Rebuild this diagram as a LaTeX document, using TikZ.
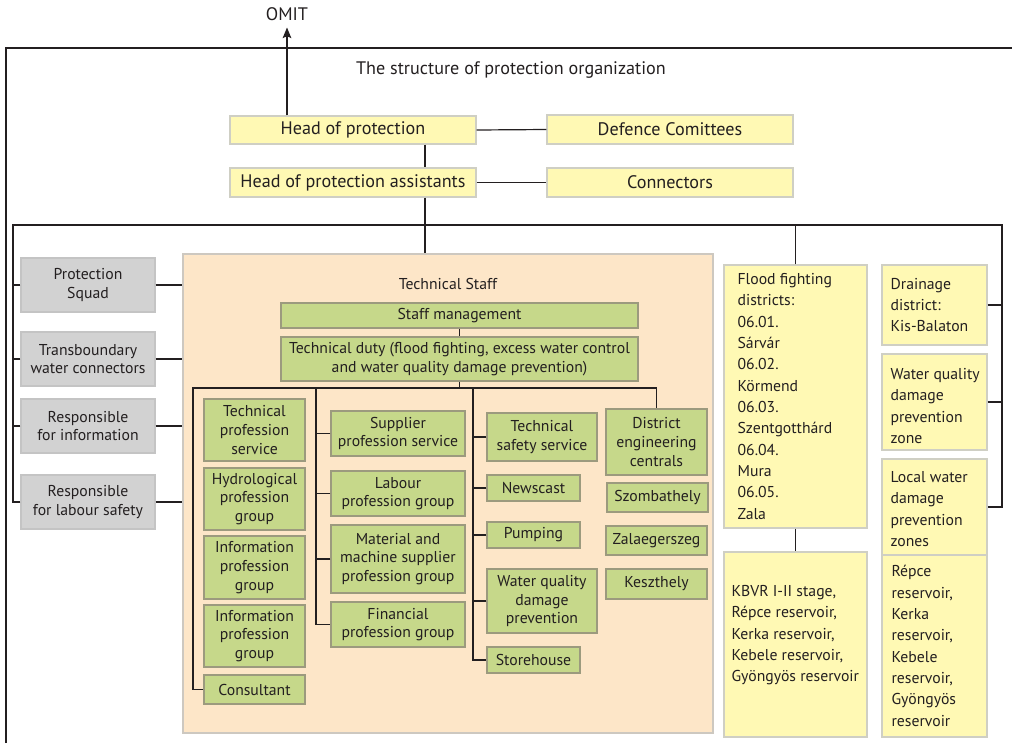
\documentclass[tikz,border=0pt]{standalone}
\usepackage{fontspec}
\setmainfont{PT Sans}
\usetikzlibrary{arrows.meta}

\definecolor{ink}{HTML}{231F20}
\definecolor{yfill}{HTML}{FFF9B4}
\definecolor{yline}{HTML}{CFCFC4}
\definecolor{gfill}{HTML}{C6D88A}
\definecolor{gline}{HTML}{9C9A7E}
\definecolor{sfill}{HTML}{D2D2D2}
\definecolor{sline}{HTML}{C4C4C4}
\definecolor{pfill}{HTML}{FDE6C8}
\definecolor{pline}{HTML}{CDC8C0}

% box from corner (x1,y1) to corner (x2,y2), in pixel units
\newcommand\bx[7]{\node[#2, minimum width={(#5-(#3))*0.75pt}, minimum height={(#6-(#4))*0.75pt}] (#1) at ({(#3+#5)/2},{(#4+#6)/2}) {#7};}

\begin{document}
\begin{tikzpicture}[x=0.75pt,y=-0.75pt,
  every node/.style={text=ink, inner sep=0pt},
  txtbig/.style={font=\fontsize{13.6}{15}\selectfont},
  txtsm/.style={font=\fontsize{11.8}{14}\selectfont},
  txtlist/.style={font=\fontsize{11.8}{16}\selectfont, align=left},
  ybox/.style={draw=yline, fill=yfill, line width=1pt, align=center},
  gbox/.style={draw=gline, fill=gfill, line width=1pt, align=center, txtsm},
  sbox/.style={draw=sline, fill=sfill, line width=1pt, align=center, txtsm},
  pbox/.style={draw=pline, fill=pfill, line width=1pt},
  wire/.style={draw=ink, line width=0.9pt},
]
\useasboundingbox (0,0) rectangle (1012,743);

% frame and bus anchors
\coordinate (frTL) at (6,48);
\coordinate (frTR) at (1012,48);
\coordinate (frBL) at (6,743);
\coordinate (busL) at (13,225);
\coordinate (busR) at (1002,225);
\coordinate (spine) at (425,225);
\coordinate (ibL) at (193,388);
\coordinate (c2) at (316,388);
\coordinate (c3) at (473,388);

\draw[wire] (frBL) -- (frTL) -- (frTR);

\node[txtbig] (omit) at (287,14) {OMIT};
\node[txtbig] (title) at (511,70) {The structure of protection organization};

% top level
\bx{head}{ybox,txtbig}{230}{116}{476}{144}{Head of protection}
\bx{assist}{ybox,txtbig}{230}{168}{476}{197}{Head of protection assistants}
\bx{defence}{ybox,txtbig}{547}{115}{793}{144}{Defence Comittees}
\bx{connect}{ybox,txtbig}{547}{168}{793}{197}{Connectors}

% grey units on the left
\bx{squad}{sbox}{21}{258}{155}{312}{Protection\\Squad}
\bx{transb}{sbox}{21}{332}{155}{386}{Transboundary\\water connectors}
\bx{respinfo}{sbox}{21}{399}{155}{453}{Responsible\\for information}
\bx{resplab}{sbox}{21}{475}{155}{529}{Responsible\\for labour safety}

% technical staff
\bx{tstaff}{pbox}{183}{254}{713}{733}{}
\node[txtsm] (tstaff-title) at (448,284) {Technical Staff};
\bx{mgmt}{gbox}{281}{303}{638}{328}{Staff management}
\bx{duty}{gbox}{281}{337}{638}{381}{Technical duty (flood fighting, excess water control\\and water quality damage prevention)}

\bx{tps}{gbox}{204}{399}{305}{461}{Technical\\profession\\service}
\bx{hyd}{gbox}{204}{468}{305}{530}{Hydrological\\profession\\group}
\bx{info1}{gbox}{204}{536}{305}{599}{Information\\profession\\group}
\bx{info2}{gbox}{204}{605}{305}{667}{Information\\profession\\group}
\bx{consult}{gbox}{204}{675}{305}{704}{Consultant}

\bx{supp}{gbox}{331}{411}{465}{456}{Supplier\\profession service}
\bx{labour}{gbox}{331}{471}{465}{516}{Labour\\profession group}
\bx{material}{gbox}{331}{525}{465}{593}{Material and\\machine supplier\\profession group}
\bx{financial}{gbox}{331}{602}{465}{647}{Financial\\profession group}

\bx{safety}{gbox}{487}{413}{597}{461}{Technical\\safety service}
\bx{news}{gbox}{487}{475}{580}{501}{Newscast}
\bx{pump}{gbox}{487}{522}{580}{548}{Pumping}
\bx{wqdp}{gbox}{487}{569}{597}{633}{Water quality\\damage\\prevention}
\bx{store}{gbox}{487}{647}{580}{673}{Storehouse}

\bx{district}{gbox}{606}{409}{707}{475}{District\\engineering\\centrals}
\bx{szomb}{gbox}{607}{483}{708}{512}{Szombathely}
\bx{zala}{gbox}{606}{526}{707}{555}{Zalaegerszeg}
\bx{keszt}{gbox}{606}{569}{707}{599}{Keszthely}

% districts and zones on the right
\bx{flood}{ybox}{724}{265}{867}{528}{}
\node[txtlist, anchor=west] (flood-txt) at ([xshift=10.5pt]flood.west)
  {Flood fighting\\districts:\\06.01.\\Sárvár\\06.02.\\Körmend\\06.03.\\Szentgotthárd\\06.04.\\Mura\\06.05.\\Zala};
\bx{kbvr}{ybox}{724}{552}{867}{737}{}
\node[txtlist, anchor=west] (kbvr-txt) at ([xshift=6pt,yshift=7pt]kbvr.west)
  {KBVR I-II stage,\\Répce reservoir,\\Kerka reservoir,\\Kebele reservoir,\\Gyöngyös reservoir};
\bx{drain}{ybox}{882}{265}{987}{345}{}
\node[txtlist, anchor=west] (drain-txt) at ([xshift=6.75pt]drain.west)
  {Drainage\\district:\\Kis-Balaton};
\bx{wqzone}{ybox}{882}{354}{987}{450}{}
\node[txtlist, anchor=west] (wqzone-txt) at ([xshift=6.75pt,yshift=-3pt]wqzone.west)
  {Water quality\\damage\\prevention\\zone};
\bx{localz}{ybox}{882}{459}{987}{555}{}
\node[txtlist, anchor=west] (localz-txt) at ([xshift=6.75pt,yshift=-1.5pt]localz.west)
  {Local water\\damage\\prevention\\zones};
\bx{resv}{ybox}{882}{555}{987}{737}{}
\node[txtlist, anchor=west] (resv-txt) at ([xshift=7.5pt]resv.west)
  {Répce\\reservoir,\\Kerka\\reservoir,\\Kebele\\reservoir,\\Gyöngyös\\reservoir};

% connectors
\draw[wire,-{Stealth[length=8pt,width=6.5pt,inset=1.5pt]}] (omit.south |- head.north) -- ([yshift=-5pt]omit.south);
\draw[wire] (head.east) -- (defence.west);
\draw[wire] (assist.east) -- (connect.west);
\draw[wire] (spine |- head.south) -- (spine |- assist.north);
\draw[wire] (spine |- assist.south) -- (spine |- tstaff.north);

\draw[wire] (resplab.west) -| (busL) -- (busR) |- (localz.east);
\foreach \n in {squad,transb,respinfo}
  \draw[wire] (\n.west) -- (\n.west -| busL);
\foreach \n in {squad,transb,respinfo,resplab}
  \draw[wire] (\n.east) -- (\n.east -| tstaff.west);
\draw[wire] (flood.north) -- (flood.north |- busR);
\draw[wire] (flood.south) -- (kbvr.north);
\foreach \n in {drain,wqzone}
  \draw[wire] (\n.east) -- (\n.east -| busR);

\draw[wire] (mgmt.south) -- (duty.north);
\draw[wire] (duty.south) -- (duty.south |- ibL);
\draw[wire] (consult.west) -| (ibL) -- (ibL -| district.north) -- (district.north);
\draw[wire] (c2) |- (financial.west);
\foreach \n in {supp,labour,material}
  \draw[wire] (\n.west) -- (\n.west -| c2);
\draw[wire] (c3) |- (store.west);
\foreach \n in {safety,news,pump,wqdp}
  \draw[wire] (\n.west) -- (\n.west -| c3);
\end{tikzpicture}
\end{document}
